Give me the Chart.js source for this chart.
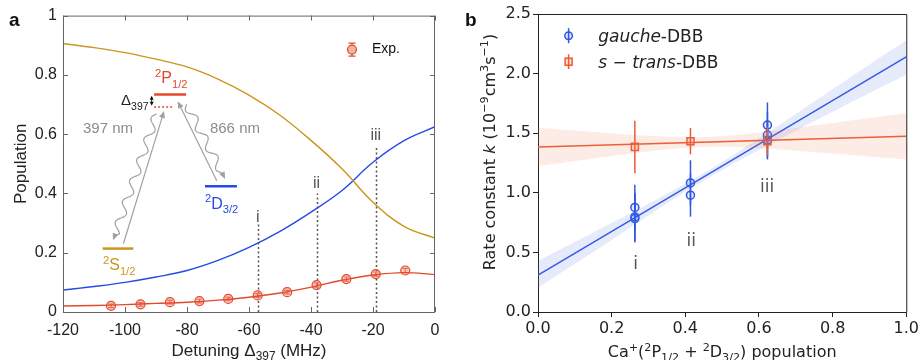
<!DOCTYPE html>
<html>
<head>
<meta charset="utf-8">
<script src="https://cdn.jsdelivr.net/npm/chart.js@4.4.1/dist/chart.umd.min.js"></script>
<style>
  html, body { margin: 0; padding: 0; background: #fff; }
  #wrap { position: relative; width: 921px; height: 360px; overflow: hidden; }
  canvas { position: absolute; top: 0; }
  #ca { left: 0; }
  #cb { left: 460px; }
</style>
</head>
<body>
<div id="wrap">
  <canvas id="ca" width="460" height="360"></canvas>
  <canvas id="cb" width="461" height="360"></canvas>
</div>
<script>
// ---- panel a: populations vs 397 detuning (MHz) ----
const detuning = [-120, -110, -100, -90, -80, -70, -60, -50, -40, -30, -20, -10, 0];
const popS = [0.906, 0.892, 0.875, 0.853, 0.827, 0.786, 0.732, 0.664, 0.579, 0.483, 0.370, 0.289, 0.249];
const popD = [0.074, 0.086, 0.100, 0.118, 0.140, 0.174, 0.218, 0.272, 0.337, 0.410, 0.505, 0.578, 0.625];
const popP = [0.020, 0.022, 0.025, 0.029, 0.033, 0.040, 0.050, 0.064, 0.084, 0.107, 0.125, 0.133, 0.126];
const expDet = [-104.5, -95, -85.5, -76, -66.7, -57.2, -47.7, -38.2, -28.6, -19.1, -9.6];
const expPop = [0.021, 0.026, 0.033, 0.037, 0.044, 0.056, 0.067, 0.091, 0.111, 0.128, 0.140];
const expErr = [0.006, 0.006, 0.006, 0.006, 0.006, 0.006, 0.006, 0.007, 0.007, 0.007, 0.007];
const markDet = [-57.2, -38.2, -19.1];
const markTop = [0.30, 0.40, 0.555];
const markLabelY = [0.305, 0.42, 0.58];
const markLabels = ["i", "ii", "iii"];
const ticksA_x = [-120, -100, -80, -60, -40, -20, 0];
const ticksA_y = [0, 0.2, 0.4, 0.6, 0.8, 1];

// ---- panel b: rate constant vs excited population ----
const popGauche = [0.263, 0.263, 0.263, 0.414, 0.414, 0.623, 0.623, 0.623];
const kGauche = [0.877, 0.798, 0.784, 1.083, 0.980, 1.568, 1.484, 1.440];
const kGaucheErr = [0.19, 0.20, 0.20, 0.19, 0.18, 0.19, 0.19, 0.16];
const popTrans = [0.263, 0.414, 0.623];
const kTrans = [1.385, 1.433, 1.433];
const kTransErr = [0.22, 0.11, 0.12];
const fitX = [0, 1];
const gaucheFit = [0.31, 2.14];
const transFit = [1.385, 1.475];
const bandX = [0, 0.1, 0.2, 0.3, 0.4, 0.5, 0.6, 0.7, 0.8, 0.9, 1.0];
const gaucheHi = [0.43, 0.588, 0.747, 0.908, 1.075, 1.258, 1.457, 1.662, 1.869, 2.077, 2.28];
const gaucheLo = [0.205, 0.405, 0.605, 0.81, 1.009, 1.192, 1.359, 1.52, 1.679, 1.837, 1.99];
const transHi = [1.546, 1.522, 1.498, 1.478, 1.465, 1.474, 1.505, 1.543, 1.585, 1.627, 1.67];
const transLo = [1.224, 1.266, 1.308, 1.346, 1.377, 1.386, 1.373, 1.353, 1.329, 1.305, 1.28];
const labelPopB = [0.265, 0.416, 0.622];
const labelKB = [0.36, 0.55, 1.01];
const ticksB_x = [0, 0.2, 0.4, 0.6, 0.8, 1.0];
const ticksB_y = [0, 0.5, 1.0, 1.5, 2.0, 2.5];

const YEL = "#cc961c";
const BLUE_A = "#2449e6";
const RED_A = "#e4492c";
const BLUE_B = "#2f56e3";
const RED_B = "#ec5a30";
const GREY = "#a0a0a0";
const fontA = '"Liberation Sans", Arial, sans-serif';
const fontB = '"DejaVu Sans", sans-serif';

const xy = (xs, ys) => xs.map((x, i) => ({ x, y: ys[i] }));

// text with sup/sub/italic pieces
function rich(ctx, parts, x, y, size, family, color, align, rotate) {
  const seg = parts.map(([t, m]) => {
    const s = (m === "sup" || m === "sub") ? size * 0.7 : size;
    const f = (m === "it" ? "italic " : "") + s + "px " + family;
    ctx.font = f;
    return { t, m, f, w: ctx.measureText(t).width };
  });
  const total = seg.reduce((a, s) => a + s.w, 0);
  ctx.save();
  ctx.translate(x, y);
  if (rotate) ctx.rotate(rotate);
  let cx = align === "center" ? -total / 2 : align === "right" ? -total : 0;
  ctx.fillStyle = color;
  ctx.textBaseline = "alphabetic";
  ctx.textAlign = "left";
  for (const s of seg) {
    ctx.font = s.f;
    const dy = s.m === "sup" ? -size * 0.38 : s.m === "sub" ? size * 0.28 : 0;
    ctx.fillText(s.t, cx, dy);
    cx += s.w;
  }
  ctx.restore();
}

function head(ctx, x, y, ux, uy, len, hw) {
  ctx.beginPath();
  ctx.moveTo(x, y);
  ctx.lineTo(x - ux * len - uy * hw, y - uy * len + ux * hw);
  ctx.lineTo(x - ux * len + uy * hw, y - uy * len - ux * hw);
  ctx.closePath();
  ctx.fill();
}

function arrow(ctx, x1, y1, x2, y2) {
  const L = Math.hypot(x2 - x1, y2 - y1);
  const ux = (x2 - x1) / L, uy = (y2 - y1) / L;
  ctx.beginPath();
  ctx.moveTo(x1, y1);
  ctx.lineTo(x2 - ux * 5, y2 - uy * 5);
  ctx.stroke();
  head(ctx, x2, y2, ux, uy, 7, 3);
}

function wavy(ctx, x1, y1, x2, y2, amp, wl) {
  const L = Math.hypot(x2 - x1, y2 - y1);
  const ux = (x2 - x1) / L, uy = (y2 - y1) / L;
  const nx = -uy, ny = ux;
  ctx.beginPath();
  for (let s = 0; s <= L - 8; s += 0.5) {
    const w = amp * Math.sin(2 * Math.PI * s / wl);
    const px = x1 + ux * s + nx * w, py = y1 + uy * s + ny * w;
    if (s === 0) ctx.moveTo(px, py); else ctx.lineTo(px, py);
  }
  ctx.lineTo(x2 - ux * 5, y2 - uy * 5);
  ctx.stroke();
  head(ctx, x2, y2, ux, uy, 7, 3);
}

function drawErrs(chart, ds, meta, cap) {
  if (!ds.errs) return;
  const ctx = chart.ctx;
  const ys = chart.scales.y;
  ctx.save();
  ctx.strokeStyle = ds.borderColor;
  ctx.lineWidth = ds.errWidth || 1.2;
  ds.data.forEach((p, i) => {
    const px = meta.data[i].x;
    const y1 = ys.getPixelForValue(p.y - ds.errs[i]);
    const y2 = ys.getPixelForValue(p.y + ds.errs[i]);
    ctx.beginPath();
    ctx.moveTo(px, y1); ctx.lineTo(px, y2);
    if (cap) {
      ctx.moveTo(px - cap, y1); ctx.lineTo(px + cap, y1);
      ctx.moveTo(px - cap, y2); ctx.lineTo(px + cap, y2);
    }
    ctx.stroke();
  });
  ctx.restore();
}

const panelA = {
  id: "panelA",
  beforeDatasetsDraw(chart) {
    const { ctx, scales: { x, y } } = chart;
    ctx.save();
    ctx.strokeStyle = "#555";
    ctx.lineWidth = 1.5;
    ctx.setLineDash([2, 2.5]);
    markDet.forEach((d, i) => {
      const px = Math.round(x.getPixelForValue(d)) + 0.5;
      ctx.beginPath();
      ctx.moveTo(px, y.getPixelForValue(0));
      ctx.lineTo(px, y.getPixelForValue(markTop[i]));
      ctx.stroke();
    });
    ctx.restore();
  },
  beforeDatasetDraw(chart, args) {
    drawErrs(chart, chart.data.datasets[args.index], args.meta, 3);
  },
  afterDraw(chart) {
    const { ctx, chartArea: ca, scales: { x, y } } = chart;
    ctx.save();
    // box + inward ticks
    ctx.strokeStyle = "#666";
    ctx.lineWidth = 1;
    ctx.strokeRect(ca.left + 0.5, ca.top + 0.5, ca.right - ca.left - 1, ca.bottom - ca.top);
    ctx.beginPath();
    ticksA_x.forEach(v => {
      const px = Math.round(x.getPixelForValue(v)) + 0.5;
      ctx.moveTo(px, ca.bottom); ctx.lineTo(px, ca.bottom - 5);
      ctx.moveTo(px, ca.top); ctx.lineTo(px, ca.top + 5);
    });
    ticksA_y.forEach(v => {
      const py = Math.round(y.getPixelForValue(v)) + 0.5;
      ctx.moveTo(ca.left, py); ctx.lineTo(ca.left + 5, py);
      ctx.moveTo(ca.right, py); ctx.lineTo(ca.right - 5, py);
    });
    ctx.stroke();

    // i / ii / iii
    ctx.fillStyle = "#555";
    ctx.font = "16px " + fontA;
    ctx.textAlign = "center";
    ctx.textBaseline = "alphabetic";
    markDet.forEach((d, i) => {
      ctx.fillText(markLabels[i], x.getPixelForValue(d), y.getPixelForValue(markLabelY[i]));
    });

    // legend
    const lx = ca.right - 83, ly = ca.top + 34;
    ctx.strokeStyle = RED_A;
    ctx.lineWidth = 1.2;
    ctx.beginPath();
    ctx.moveTo(lx, ly - 6.5); ctx.lineTo(lx, ly + 6.5);
    ctx.moveTo(lx - 3.5, ly - 6.5); ctx.lineTo(lx + 3.5, ly - 6.5);
    ctx.moveTo(lx - 3.5, ly + 6.5); ctx.lineTo(lx + 3.5, ly + 6.5);
    ctx.stroke();
    ctx.beginPath();
    ctx.arc(lx, ly, 4.5, 0, Math.PI * 2);
    ctx.fillStyle = "rgba(240,180,165,1)";
    ctx.fill();
    ctx.stroke();
    ctx.fillStyle = "#111";
    ctx.font = "14px " + fontA;
    ctx.textAlign = "left";
    ctx.textBaseline = "middle";
    ctx.fillText("Exp.", lx + 20, ly);

    // energy level inset, positioned in data units
    const X = v => x.getPixelForValue(v), Y = v => y.getPixelForValue(v);
    ctx.lineWidth = 2.5;
    ctx.strokeStyle = RED_A;
    ctx.beginPath(); ctx.moveTo(X(-90.6), Y(0.734)); ctx.lineTo(X(-80.3), Y(0.734)); ctx.stroke();
    ctx.lineWidth = 1.5;
    ctx.setLineDash([2, 2]);
    ctx.beginPath(); ctx.moveTo(X(-90.6), Y(0.692)); ctx.lineTo(X(-84.5), Y(0.692)); ctx.stroke();
    ctx.setLineDash([]);
    ctx.lineWidth = 2.5;
    ctx.strokeStyle = BLUE_A;
    ctx.beginPath(); ctx.moveTo(X(-74.2), Y(0.424)); ctx.lineTo(X(-63.9), Y(0.424)); ctx.stroke();
    ctx.strokeStyle = YEL;
    ctx.beginPath(); ctx.moveTo(X(-107.2), Y(0.214)); ctx.lineTo(X(-97.3), Y(0.214)); ctx.stroke();

    ctx.strokeStyle = GREY;
    ctx.fillStyle = GREY;
    ctx.lineWidth = 1.2;
    arrow(ctx, X(-100.5), Y(0.231), X(-87.4), Y(0.678));
    arrow(ctx, X(-70.4), Y(0.443), X(-83.0), Y(0.711));
    wavy(ctx, X(-89.8), Y(0.668), X(-103.8), Y(0.242), 4, 22);
    wavy(ctx, X(-80.1), Y(0.701), X(-67.7), Y(0.449), 4, 22);

    // delta double arrow
    ctx.strokeStyle = "#111";
    ctx.fillStyle = "#111";
    ctx.lineWidth = 1;
    const dx = X(-91.4);
    ctx.beginPath(); ctx.moveTo(dx, Y(0.727) + 3); ctx.lineTo(dx, Y(0.699) - 3); ctx.stroke();
    head(ctx, dx, Y(0.730), 0, -1, 4, 2);
    head(ctx, dx, Y(0.696), 0, 1, 4, 2);

    rich(ctx, [["2", "sup"], ["P", ""], ["1/2", "sub"]], X(-90.3), Y(0.772), 16, fontA, RED_A, "left");
    rich(ctx, [["2", "sup"], ["D", ""], ["3/2", "sub"]], X(-74.2), Y(0.349), 16, fontA, BLUE_A, "left");
    rich(ctx, [["2", "sup"], ["S", ""], ["1/2", "sub"]], X(-107.1), Y(0.141), 16, fontA, YEL, "left");
    rich(ctx, [["\u0394", ""], ["397", "sub"]], X(-92.4), Y(0.697), 15, fontA, "#222", "right");
    ctx.font = "15px " + fontA;
    ctx.fillStyle = "#8c8c8c";
    ctx.textBaseline = "middle";
    ctx.textAlign = "right";
    ctx.fillText("397 nm", X(-97.4), Y(0.617));
    ctx.textAlign = "left";
    ctx.fillText("866 nm", X(-72.6), Y(0.617));

    // titles
    rich(ctx, [["Detuning \u0394", ""], ["397", "sub"], [" (MHz)", ""]], (ca.left + ca.right) / 2, 355.5, 17, fontA, "#222", "center");
    rich(ctx, [["Population", ""]], 25.5, (ca.top + ca.bottom) / 2, 17, fontA, "#222", "center", -Math.PI / 2);
    ctx.font = "bold 19px " + fontA;
    ctx.fillStyle = "#111";
    ctx.textAlign = "left";
    ctx.textBaseline = "alphabetic";
    ctx.fillText("a", 9, 26);
    ctx.restore();
  }
};

const panelB = {
  id: "panelB",
  beforeDatasetDraw(chart, args) {
    drawErrs(chart, chart.data.datasets[args.index], args.meta, 0);
  },
  afterDraw(chart) {
    const { ctx, chartArea: ca, scales: { x, y } } = chart;
    ctx.save();
    ctx.strokeStyle = "#222";
    ctx.lineWidth = 1;
    ctx.beginPath();
    ctx.moveTo(ca.left, ca.top + 0.5); ctx.lineTo(ca.right + 0.5, ca.top + 0.5);
    ctx.lineTo(ca.right + 0.5, ca.bottom);
    ctx.stroke();

    ctx.fillStyle = "#555";
    ctx.font = "17px " + fontB;
    ctx.textAlign = "center";
    ctx.textBaseline = "alphabetic";
    labelPopB.forEach((p, i) => ctx.fillText(markLabels[i], x.getPixelForValue(p), y.getPixelForValue(labelKB[i])));

    // legend
    const lx = ca.left + 30.6;
    const rows = [ca.top + 21.7, ca.top + 47.7];
    ctx.lineWidth = 1.5;
    ctx.strokeStyle = BLUE_B;
    ctx.beginPath(); ctx.moveTo(lx, rows[0] - 7.5); ctx.lineTo(lx, rows[0] + 7.5); ctx.stroke();
    ctx.beginPath(); ctx.arc(lx, rows[0], 3.8, 0, Math.PI * 2);
    ctx.fillStyle = "rgba(47,86,227,0.15)"; ctx.fill(); ctx.stroke();
    ctx.strokeStyle = RED_B;
    ctx.beginPath(); ctx.moveTo(lx, rows[1] - 7.5); ctx.lineTo(lx, rows[1] + 7.5); ctx.stroke();
    ctx.fillStyle = "rgba(236,90,48,0.18)";
    ctx.fillRect(lx - 3.5, rows[1] - 3.5, 7, 7);
    ctx.strokeRect(lx - 3.5, rows[1] - 3.5, 7, 7);
    rich(ctx, [["gauche", "it"], ["-DBB", ""]], lx + 29.7, rows[0] + 6, 17, fontB, "#222", "left");
    rich(ctx, [["s", "it"], [" \u2212 ", ""], ["trans", "it"], ["-DBB", ""]], lx + 29.7, rows[1] + 6, 17, fontB, "#222", "left");

    // titles
    rich(ctx, [["Ca", ""], ["+", "sup"], ["(", ""], ["2", "sup"], ["P", ""], ["1/2", "sub"], [" + ", ""], ["2", "sup"], ["D", ""], ["3/2", "sub"], [") population", ""]],
      (ca.left + ca.right) / 2, 357, 16, fontB, "#222", "center");
    rich(ctx, [["Rate constant ", ""], ["k", "it"], [" (10", ""], ["\u22129", "sup"], ["cm", ""], ["3", "sup"], ["s", ""], ["\u22121", "sup"], [")", ""]],
      34.5, 152, 16, fontB, "#222", "center", -Math.PI / 2);
    ctx.font = "bold 19px " + fontA;
    ctx.fillStyle = "#111";
    ctx.textAlign = "left";
    ctx.fillText("b", 5, 26);
    ctx.restore();
  }
};

const noGrid = { display: true, drawOnChartArea: false, drawTicks: false };

new Chart(document.getElementById("ca"), {
  type: "line",
  data: {
    datasets: [
      { data: xy(detuning, popS), borderColor: YEL, borderWidth: 1.4, pointRadius: 0, tension: 0.4 },
      { data: xy(detuning, popD), borderColor: BLUE_A, borderWidth: 1.4, pointRadius: 0, tension: 0.4 },
      { data: xy(detuning, popP), borderColor: RED_A, borderWidth: 1.4, pointRadius: 0, tension: 0.4 },
      { data: xy(expDet, expPop), errs: expErr, showLine: false, borderColor: RED_A, backgroundColor: "rgba(240,150,130,0.45)",
        pointRadius: 4.5, pointBorderWidth: 1.2, pointStyle: "circle" }
    ]
  },
  options: {
    responsive: false,
    animation: false,
    events: [],
    layout: { padding: { top: 14, right: 25, left: 0, bottom: 0 } },
    plugins: { legend: { display: false }, tooltip: { enabled: false } },
    scales: {
      x: {
        type: "linear", min: -120, max: 0,
        afterFit: s => { s.height = 48; },
        afterBuildTicks: s => { s.ticks = ticksA_x.map(v => ({ value: v })); },
        grid: noGrid, border: { display: false },
        ticks: { padding: 9, color: "#222", maxRotation: 0, font: { family: fontA, size: 16 }, callback: v => String(v) }
      },
      y: {
        type: "linear", min: 0, max: 1,
        afterFit: s => { s.width = 63; },
        afterBuildTicks: s => { s.ticks = ticksA_y.map(v => ({ value: v })); },
        grid: noGrid, border: { display: false },
        ticks: { padding: 6, color: "#222", font: { family: fontA, size: 16 }, callback: v => (v === 0 || v === 1) ? String(v) : v.toFixed(1) }
      }
    }
  },
  plugins: [panelA]
});

new Chart(document.getElementById("cb"), {
  type: "line",
  data: {
    datasets: [
      { data: xy(bandX, transLo), borderWidth: 0, pointRadius: 0, fill: false, tension: 0.4 },
      { data: xy(bandX, transHi), borderWidth: 0, pointRadius: 0, fill: "-1", backgroundColor: "rgba(240,120,90,0.15)", tension: 0.4 },
      { data: xy(bandX, gaucheLo), borderWidth: 0, pointRadius: 0, fill: false, tension: 0.4 },
      { data: xy(bandX, gaucheHi), borderWidth: 0, pointRadius: 0, fill: "-1", backgroundColor: "rgba(90,120,235,0.15)", tension: 0.4 },
      { data: xy(fitX, transFit), borderColor: RED_B, borderWidth: 1.5, pointRadius: 0 },
      { data: xy(fitX, gaucheFit), borderColor: BLUE_B, borderWidth: 1.5, pointRadius: 0 },
      { data: xy(popTrans, kTrans), errs: kTransErr, errWidth: 1.5, showLine: false, borderColor: RED_B,
        backgroundColor: "rgba(236,90,48,0.18)", pointStyle: "rect", pointRadius: 5, pointBorderWidth: 1.5 },
      { data: xy(popGauche, kGauche), errs: kGaucheErr, errWidth: 1.5, showLine: false, borderColor: BLUE_B,
        backgroundColor: "rgba(47,86,227,0.12)", pointStyle: "circle", pointRadius: 4, pointBorderWidth: 1.5 }
    ]
  },
  options: {
    responsive: false,
    animation: false,
    events: [],
    layout: { padding: { top: 14, right: 13, left: 0, bottom: 0 } },
    plugins: { legend: { display: false }, tooltip: { enabled: false } },
    scales: {
      x: {
        type: "linear", min: 0, max: 1,
        afterFit: s => { s.height = 48; },
        afterBuildTicks: s => { s.ticks = ticksB_x.map(v => ({ value: v })); },
        grid: { display: true, drawOnChartArea: false, drawTicks: true, tickLength: 5, color: "#222" },
        border: { display: true, color: "#222" },
        ticks: { padding: 2, color: "#222", maxRotation: 0, font: { family: fontB, size: 16 }, callback: v => v.toFixed(1) }
      },
      y: {
        type: "linear", min: 0, max: 2.5,
        afterFit: s => { s.width = 78; },
        afterBuildTicks: s => { s.ticks = ticksB_y.map(v => ({ value: v })); },
        grid: { display: true, drawOnChartArea: false, drawTicks: true, tickLength: 5, color: "#222" },
        border: { display: true, color: "#222" },
        ticks: { padding: 2, color: "#222", font: { family: fontB, size: 16 }, callback: v => v.toFixed(1) }
      }
    }
  },
  plugins: [panelB]
});
</script>
</body>
</html>
